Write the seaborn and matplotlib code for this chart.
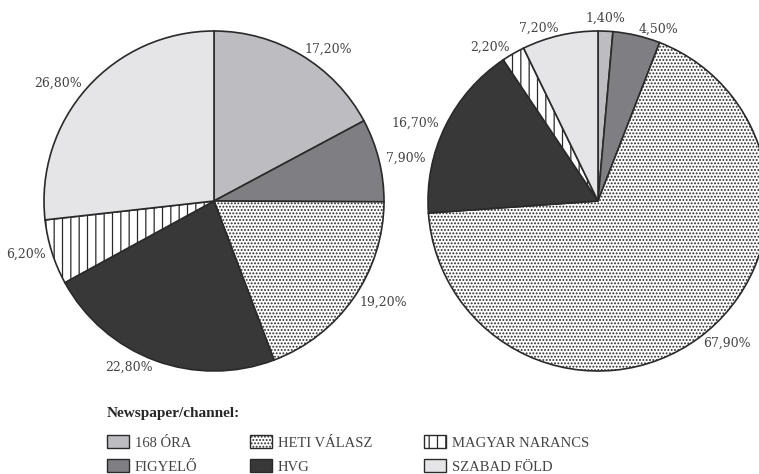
import matplotlib
matplotlib.use("Agg")
import numpy as np
import matplotlib.pyplot as plt
import seaborn as sns

channels = ["168 ÓRA", "FIGYELŐ", "HETI VÁLASZ", "HVG", "MAGYAR NARANCS", "SZABAD FÖLD"]
left_share = [17.2, 7.9, 19.2, 22.8, 6.2, 26.8]
right_share = [1.4, 4.5, 67.9, 16.7, 2.2, 7.2]

colors = ["#bdbdc1", "#7f7f83", "#ffffff", "#383838", "#ffffff", "#e5e5e7"]
hatches = [None, None, ".....", None, "||", None]

sns.set_theme(style="white")
plt.rcParams["font.family"] = ["Liberation Serif", "DejaVu Serif"]
plt.rcParams["hatch.color"] = "#3a3a3a"
plt.rcParams["hatch.linewidth"] = 0.9

fig = plt.figure(figsize=(7.59, 4.74), dpi=100)
# pies: radius ~170 px, centres at (214, 201) and (598, 201)
ax1 = fig.add_axes([44 / 759, 103 / 474, 340 / 759, 340 / 474])
ax2 = fig.add_axes([428 / 759, 103 / 474, 340 / 759, 340 / 474])


def fmt(v):
    return f"{v:.2f}%".replace(".", ",")


def draw_pie(ax, values):
    wedges, texts = ax.pie(
        values,
        labels=[fmt(v) for v in values],
        colors=colors,
        startangle=90,
        counterclock=False,
        labeldistance=1.04,
        wedgeprops=dict(edgecolor="#2a2a2a", linewidth=1.2),
        textprops=dict(fontsize=9, color="#444444", family=["DejaVu Serif"]),
    )
    for w, h, t in zip(wedges, hatches, texts):
        if h:
            w.set_hatch(h)
        mid = np.deg2rad((w.theta1 + w.theta2) / 2)
        if abs(np.cos(mid)) < 0.1:
            t.set_ha("center")
            t.set_va("bottom")
    ax.set_xlim(-1, 1)
    ax.set_ylim(-1, 1)
    ax.set_aspect("equal")
    return wedges


wedges = draw_pie(ax1, left_share)
draw_pie(ax2, right_share)

leg = fig.legend(
    wedges, channels,
    loc="upper left", bbox_to_anchor=(107 / 759, 1 - 407 / 474),
    ncol=3, frameon=False,
    title="Newspaper/channel:", alignment="left",
    title_fontproperties={"weight": "bold", "size": 11},
    fontsize=10.5, handlelength=1.5, handleheight=1.0,
    columnspacing=3.6, labelspacing=0.65, handletextpad=0.4,
    borderaxespad=0, borderpad=0,
)
leg._legend_box.sep = 11
for t in leg.get_texts():
    t.set_color("#444444")
for h in leg.legend_handles:
    h.set_linewidth(1.0)

fig.savefig("out.png", dpi=100)
